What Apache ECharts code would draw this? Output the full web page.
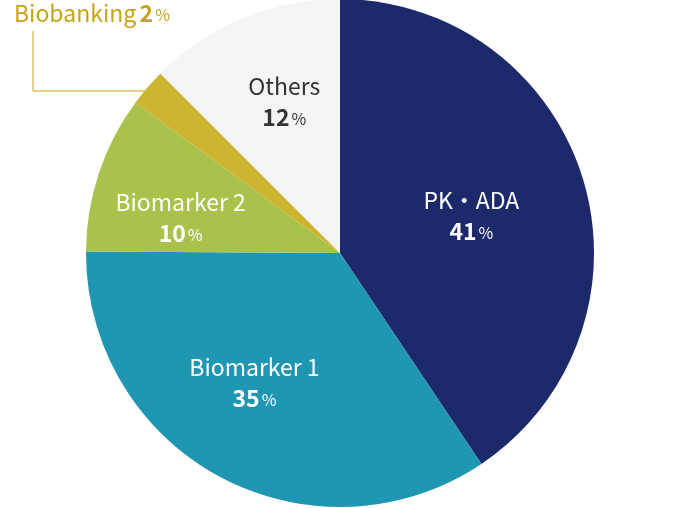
<!DOCTYPE html>
<html>
<head>
<meta charset="utf-8">
<script src="https://cdn.jsdelivr.net/npm/echarts@6/dist/echarts.min.js"></script>
<style>html,body{margin:0;padding:0;background:#fff}#c{width:680px;height:508px}</style>
</head>
<body>
<div id="c"></div>
<script>
const categories = ['PK・ADA', 'Biomarker 1', 'Biomarker 2', 'Biobanking', 'Others'];
const shares = [40.6, 34.5, 10.0, 2.4, 12.5];
const pctLabels = [41, 35, 10, 2, 12];

const sliceColors = ['#1c2a6b', '#1f97b2', '#a8c24b', '#cdb431', '#f3f4f3'];
const textColors = ['#ffffff', '#ffffff', '#ffffff', '#c5a415', '#333333'];
const labelOffsets = [[7, 1], [-24, 15], [-36, 6], [0, 0], [-6, -31]];
const FONT = '"Noto Sans CJK JP", "Noto Sans", sans-serif';

function rich(color) {
  return {
    n: { fontFamily: FONT, fontSize: 23, color: color, lineHeight: 31 },
    v: { fontFamily: FONT, fontSize: 23, fontWeight: 'bold', color: color, lineHeight: 31 },
    p: { fontFamily: FONT, fontSize: 16, color: color, lineHeight: 31, padding: [3, 0, 0, 2] }
  };
}

const data = categories.map((name, i) => {
  const item = {
    name: name,
    value: shares[i],
    itemStyle: { color: sliceColors[i] }
  };
  if (name === 'Biobanking') {
    item.label = {
      show: true,
      position: 'outside',
      formatter: '{n|' + name + '} {v|' + pctLabels[i] + '}{p|%}',
      rich: rich(textColors[i])
    };
    item.labelLine = { show: true, lineStyle: { color: '#c5a415', width: 1 } };
  } else {
    item.label = {
      show: true,
      position: 'inside',
      offset: labelOffsets[i],
      formatter: '{n|' + name + '}\n{v|' + pctLabels[i] + '}{p|%}',
      rich: rich(textColors[i])
    };
    item.labelLine = { show: false };
  }
  return item;
});

const chart = echarts.init(document.getElementById('c'));
chart.setOption({
  animation: false,
  series: [{
    type: 'pie',
    center: [340, 253],
    radius: 254,
    startAngle: 90,
    clockwise: true,
    avoidLabelOverlap: false,
    silent: true,
    itemStyle: { borderWidth: 0 },
    data: data,
    labelLayout: function (params) {
      if (categories[params.dataIndex] === 'Biobanking') {
        return {
          x: 14,
          y: 13,
          align: 'left',
          verticalAlign: 'middle',
          labelLinePoints: [[160, 91], [33, 91], [33, 31]]
        };
      }
      return {};
    }
  }]
});
</script>
</body>
</html>
